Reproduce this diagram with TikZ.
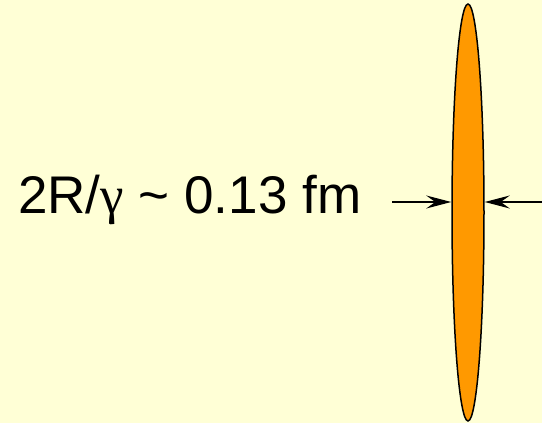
\documentclass[tikz,border=0pt]{standalone}
\usepackage{fontspec}
\setmainfont{Liberation Sans}
\newfontfamily\symfont{Liberation Serif}
\usetikzlibrary{arrows.meta,shapes.geometric}
\definecolor{bgyellow}{HTML}{FFFFD6}
\definecolor{nucleus}{HTML}{FF9900}
\tikzset{
  dimarrow/.style={line width=1.4pt, -{Stealth[length=25pt,width=13pt,inset=9pt]}},
  label/.style={font=\fontsize{53}{60}\selectfont, anchor=base west, inner sep=0pt},
}
\begin{document}
\begin{tikzpicture}[x=1pt,y=-1pt]
  \fill[bgyellow] (0,0) rectangle (542,423);
  \useasboundingbox (0,0) rectangle (542,423);
  \node[draw, line width=1.5pt, fill=nucleus, ellipse, inner sep=0pt,
        minimum width=32pt, minimum height=417pt] (disk) at (468,212.5) {};
  \coordinate (lstart) at (392,202);
  \coordinate (rstart) at (542,202);
  \draw[dimarrow] (lstart) -- (disk.west |- lstart);
  \draw[dimarrow] (rstart) -- (disk.east |- rstart);
  \node[label] (txt) at (18,213) {2R/{\symfont γ} \textasciitilde{} 0.13 fm};
\end{tikzpicture}
\end{document}
